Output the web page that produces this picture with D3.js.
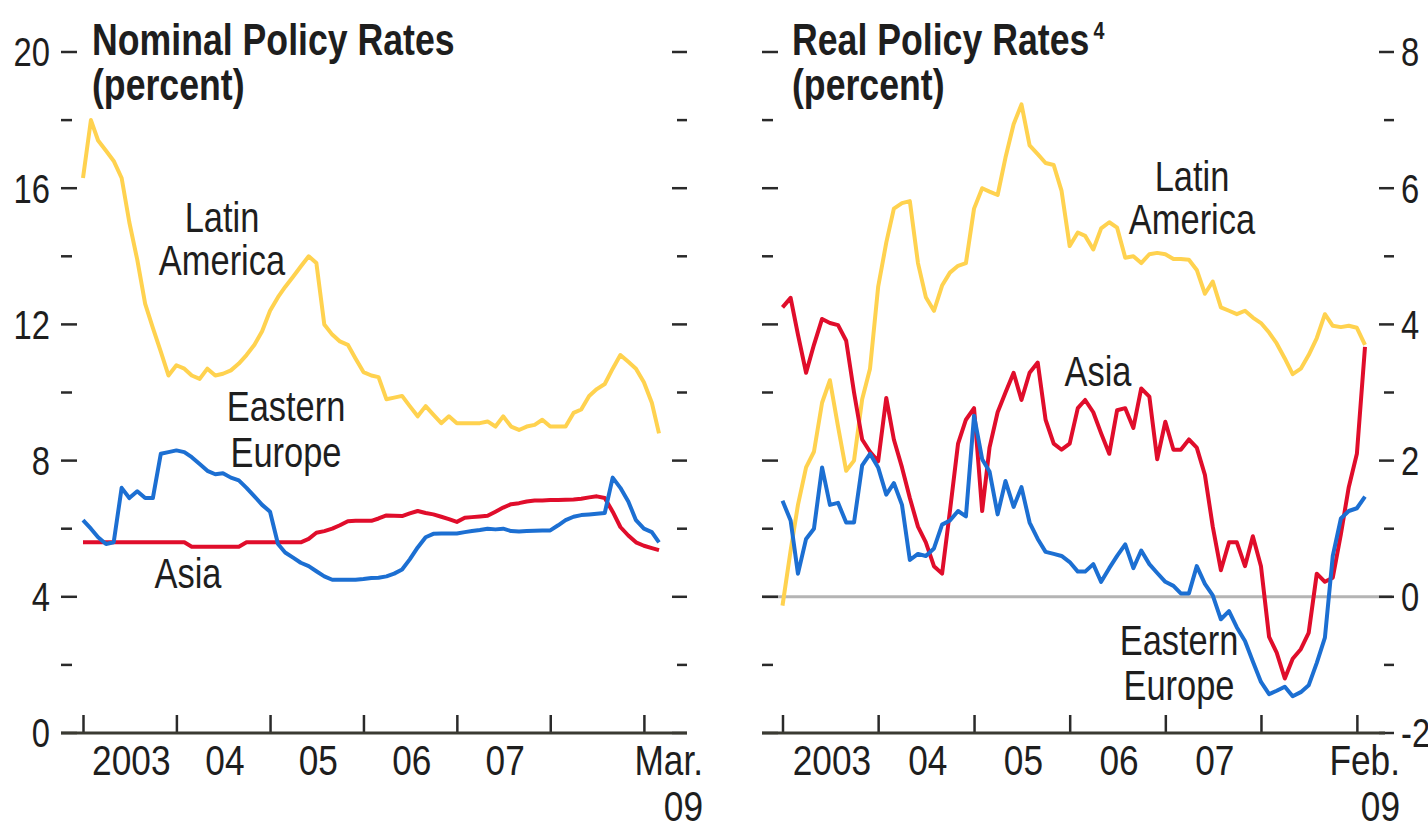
<!DOCTYPE html>
<html>
<head>
<meta charset="utf-8">
<script src="https://cdn.jsdelivr.net/npm/d3@7"></script>
<style>
  body { margin: 0; background: #fff; }
  text { font-family: "Liberation Sans", Arial, sans-serif; fill: #1e1e1e; }
</style>
</head>
<body>
<svg id="chart" width="1428" height="829"></svg>
<script>
// monthly series, Jan 2003 onwards
var nomLatAm = [16.3, 18.0, 17.4, 17.1, 16.8, 16.3, 15.0, 13.9, 12.6, 11.9, 11.2, 10.5,
  10.8, 10.7, 10.5, 10.4, 10.7, 10.5, 10.55, 10.65, 10.85, 11.1, 11.4, 11.8,
  12.4, 12.8, 13.1, 13.4, 13.7, 14.0, 13.8, 12.0, 11.7, 11.5, 11.4, 11.0,
  10.6, 10.5, 10.45, 9.8, 9.85, 9.9, 9.6, 9.3, 9.6, 9.35, 9.1, 9.3,
  9.1, 9.1, 9.1, 9.1, 9.15, 9.0, 9.3, 9.0, 8.9, 9.0, 9.05, 9.2,
  9.0, 9.0, 9.0, 9.4, 9.5, 9.9, 10.1, 10.25, 10.7, 11.1, 10.9, 10.7,
  10.3, 9.7, 8.8];
var nomEastEu = [6.25, 6.0, 5.75, 5.55, 5.6, 7.2, 6.9, 7.1, 6.9, 6.9, 8.2, 8.25,
  8.3, 8.25, 8.1, 7.9, 7.7, 7.6, 7.63, 7.5, 7.42, 7.2, 6.95, 6.7,
  6.5, 5.55, 5.3, 5.15, 5.0, 4.9, 4.75, 4.6, 4.5, 4.5, 4.5, 4.5,
  4.52, 4.55, 4.56, 4.6, 4.68, 4.8, 5.1, 5.45, 5.75, 5.85, 5.86, 5.86,
  5.86, 5.9, 5.93, 5.96, 6.0, 5.98, 6.0, 5.93, 5.92, 5.93, 5.94, 5.95,
  5.95, 6.1, 6.25, 6.35, 6.4, 6.42, 6.44, 6.46, 7.5, 7.2, 6.8, 6.25,
  6.0, 5.9, 5.6];
var nomAsia = [5.6, 5.6, 5.6, 5.6, 5.6, 5.6, 5.6, 5.6, 5.6, 5.6, 5.6, 5.6,
  5.6, 5.6, 5.47, 5.47, 5.47, 5.47, 5.47, 5.47, 5.47, 5.6, 5.6, 5.6,
  5.6, 5.6, 5.6, 5.6, 5.6, 5.7, 5.88, 5.93, 6.0, 6.1, 6.22, 6.23,
  6.23, 6.23, 6.3, 6.39, 6.38, 6.37, 6.45, 6.52, 6.46, 6.42, 6.35, 6.28,
  6.2, 6.32, 6.34, 6.36, 6.38, 6.5, 6.62, 6.72, 6.75, 6.8, 6.83, 6.83,
  6.84, 6.84, 6.85, 6.86, 6.88, 6.92, 6.95, 6.9, 6.5, 6.05, 5.8, 5.6,
  5.5, 5.43, 5.37];

var realLatAm = [-0.13, 0.68, 1.35, 1.9, 2.13, 2.85, 3.18, 2.5, 1.85, 2.0, 2.9, 3.35,
  4.55, 5.2, 5.7, 5.78, 5.81, 4.9, 4.4, 4.2, 4.57, 4.76, 4.86, 4.9,
  5.7, 6.0, 5.95, 5.9, 6.45, 6.94, 7.23, 6.63, 6.5, 6.37, 6.34, 5.96,
  5.15, 5.35, 5.3, 5.1, 5.41, 5.5, 5.42, 4.98, 5.0, 4.9, 5.03, 5.05,
  5.03, 4.96, 4.96, 4.95, 4.8, 4.45, 4.63, 4.25, 4.2, 4.15, 4.2, 4.1,
  4.02, 3.88, 3.72, 3.5, 3.27, 3.35, 3.55, 3.8, 4.15, 3.98, 3.96, 3.98,
  3.95, 3.7];
var realEastEu = [1.41, 1.12, 0.34, 0.85, 1.0, 1.9, 1.35, 1.38, 1.09, 1.09, 1.93, 2.1,
  1.9, 1.5, 1.67, 1.35, 0.54, 0.63, 0.6, 0.71, 1.06, 1.12, 1.26, 1.18,
  2.66, 2.02, 1.84, 1.21, 1.7, 1.32, 1.61, 1.09, 0.85, 0.66, 0.63, 0.6,
  0.51, 0.37, 0.37, 0.48, 0.22, 0.42, 0.6, 0.77, 0.42, 0.68, 0.48, 0.35,
  0.22, 0.16, 0.05, 0.05, 0.45, 0.19, 0.02, -0.33, -0.21, -0.45, -0.65, -0.95,
  -1.25, -1.43, -1.38, -1.32, -1.46, -1.4, -1.3, -0.97, -0.6, 0.6, 1.15, 1.26,
  1.3, 1.47];
var realAsia = [4.25, 4.39, 3.85, 3.29, 3.7, 4.08, 4.02, 3.99, 3.76, 3.0, 2.31, 2.13,
  1.99, 2.92, 2.31, 1.9, 1.45, 1.03, 0.8, 0.45, 0.34, 1.26, 2.25, 2.6,
  2.77, 1.26, 2.19, 2.71, 3.0, 3.29, 2.89, 3.29, 3.44, 2.6, 2.25, 2.16,
  2.25, 2.77, 2.89, 2.71, 2.4, 2.1, 2.74, 2.77, 2.48, 3.06, 2.94, 2.02,
  2.57, 2.16, 2.16, 2.31, 2.19, 1.79, 1.03, 0.39, 0.8, 0.8, 0.45, 0.89,
  0.45, -0.59, -0.82, -1.2, -0.91, -0.77, -0.53, 0.34, 0.22, 0.28, 0.92, 1.61,
  2.1, 3.67];

var yearLabels = ['2003', '04', '05', '06', '07'];
var nomTicks = [0, 2, 4, 6, 8, 10, 12, 14, 16, 18, 20];
var realTicks = [-2, -1, 0, 1, 2, 3, 4, 5, 6, 7, 8];

var colors = { latam: '#ffd24f', asia: '#e00d2b', eeu: '#1c6fd2' };

// the source uses a condensed face; squeeze Liberation Sans to match
var squeeze = 0.82;

var svg = d3.select('#chart');

function months(n) {
  return d3.range(n).map(function (i) { return new Date(2003, i, 1); });
}

function putText(g, x, y, size) {
  return g.append('text')
    .attr('transform', 'translate(' + x + ',' + y + ') scale(' + squeeze + ',1)')
    .style('font-size', size + 'px');
}

function drawPanel(p) {
  var x = d3.scaleTime().domain([new Date(2003, 0, 1), p.end]).range(p.xRange);
  var y = d3.scaleLinear().domain(p.yDomain).range([733, 52]);
  var g = svg.append('g');

  // zero line (real panel only)
  if (p.zero) {
    g.append('line')
      .attr('x1', p.frame[0]).attr('x2', p.zeroEnd)
      .attr('y1', y(0)).attr('y2', y(0))
      .style('stroke', '#b4b4b4').style('stroke-width', 3);
  }

  // y ticks both sides, labelled ones longer
  p.ticks.forEach(function (v) {
    var major = p.labels.indexOf(v) >= 0;
    g.append('line')
      .attr('x1', p.frame[0]).attr('x2', p.frame[0] + (major ? 16 : 11))
      .attr('y1', y(v)).attr('y2', y(v))
      .style('stroke', '#2a2a2a').style('stroke-width', 2.5);
    g.append('line')
      .attr('x1', p.frame[1] - (major ? 15 : 10)).attr('x2', p.frame[1])
      .attr('y1', y(v)).attr('y2', y(v))
      .style('stroke', '#2a2a2a').style('stroke-width', 2.5);
  });

  p.labels.forEach(function (v) {
    putText(g, p.labelX, y(v), 40)
      .attr('dy', '0.36em')
      .attr('text-anchor', p.labelAnchor)
      .text(v);
  });

  // lines
  var line = d3.line()
    .x(function (d) { return x(d.date); })
    .y(function (d) { return y(d.v); });

  p.series.forEach(function (s) {
    var dates = months(s.values.length);
    var pts = s.values.map(function (v, i) { return { date: dates[i], v: v }; });
    g.append('path')
      .datum(pts)
      .attr('d', line)
      .style('fill', 'none')
      .style('stroke', s.color)
      .style('stroke-width', 4)
      .style('stroke-linejoin', 'round');
  });

  // baseline with year ticks pointing up
  var xAxis = d3.axisBottom(x)
    .tickValues(d3.range(2003, 2010).map(function (yr) { return new Date(yr, 0, 1); }))
    .tickSizeInner(-18)
    .tickSizeOuter(0)
    .tickFormat('');
  var ax = g.append('g')
    .attr('transform', 'translate(0,733)')
    .call(xAxis);
  ax.select('.domain').remove();
  ax.selectAll('.tick line').style('stroke', '#2a2a2a').style('stroke-width', 2.5);
  g.append('line')
    .attr('x1', p.frame[0]).attr('x2', p.axisEnd)
    .attr('y1', 733).attr('y2', 733)
    .style('stroke', '#3a3a32').style('stroke-width', 3);

  yearLabels.forEach(function (d, i) {
    putText(g, x(new Date(2003 + i, 6, 1)) + 2, 775, 43)
      .attr('text-anchor', 'middle')
      .text(d);
  });
  putText(g, p.endX, 775, 43).attr('text-anchor', 'end').text(p.endLabel[0]);
  putText(g, p.endX, 821, 43).attr('text-anchor', 'end').text(p.endLabel[1]);

  // titles
  var t = putText(g, p.titleX, 55, 43.5).style('font-weight', 'bold');
  t.append('tspan').text(p.title);
  if (p.note) {
    t.append('tspan').attr('dx', 5).attr('dy', -16).style('font-size', '24px').text(p.note);
  }
  putText(g, p.titleX, 100, 43.5).style('font-weight', 'bold').text('(percent)');

  // in-plot series labels
  p.notes.forEach(function (n) {
    n.lines.forEach(function (l, i) {
      putText(g, n.x, n.y + i * n.gap, 42)
        .attr('text-anchor', 'middle')
        .text(l);
    });
  });
}

drawPanel({
  title: 'Nominal Policy Rates', titleX: 92,
  end: new Date(2009, 2, 1), xRange: [83, 659],
  yDomain: [0, 20], ticks: nomTicks, labels: [0, 4, 8, 12, 16, 20],
  labelX: 50, labelAnchor: 'end',
  frame: [61, 687], axisEnd: 687,
  endX: 703, endLabel: ['Mar.', '09'],
  series: [
    { values: nomLatAm, color: colors.latam },
    { values: nomAsia, color: colors.asia },
    { values: nomEastEu, color: colors.eeu }
  ],
  notes: [
    { lines: ['Latin', 'America'], x: 222, y: 232, gap: 43 },
    { lines: ['Eastern', 'Europe'], x: 286, y: 421, gap: 46 },
    { lines: ['Asia'], x: 188, y: 588, gap: 0 }
  ]
});

drawPanel({
  title: 'Real Policy Rates', note: '4', titleX: 792,
  end: new Date(2009, 1, 1), xRange: [782.5, 1365],
  yDomain: [-2, 8], ticks: realTicks, labels: [-2, 0, 2, 4, 6, 8],
  labelX: 1401, labelAnchor: 'start',
  frame: [762, 1394], axisEnd: 1385,
  zero: true, zeroEnd: 1392,
  endX: 1400, endLabel: ['Feb.', '09'],
  series: [
    { values: realLatAm, color: colors.latam },
    { values: realAsia, color: colors.asia },
    { values: realEastEu, color: colors.eeu }
  ],
  notes: [
    { lines: ['Latin', 'America'], x: 1192, y: 191, gap: 43 },
    { lines: ['Asia'], x: 1098, y: 386, gap: 0 },
    { lines: ['Eastern', 'Europe'], x: 1179, y: 655, gap: 45 }
  ]
});
</script>
</body>
</html>
